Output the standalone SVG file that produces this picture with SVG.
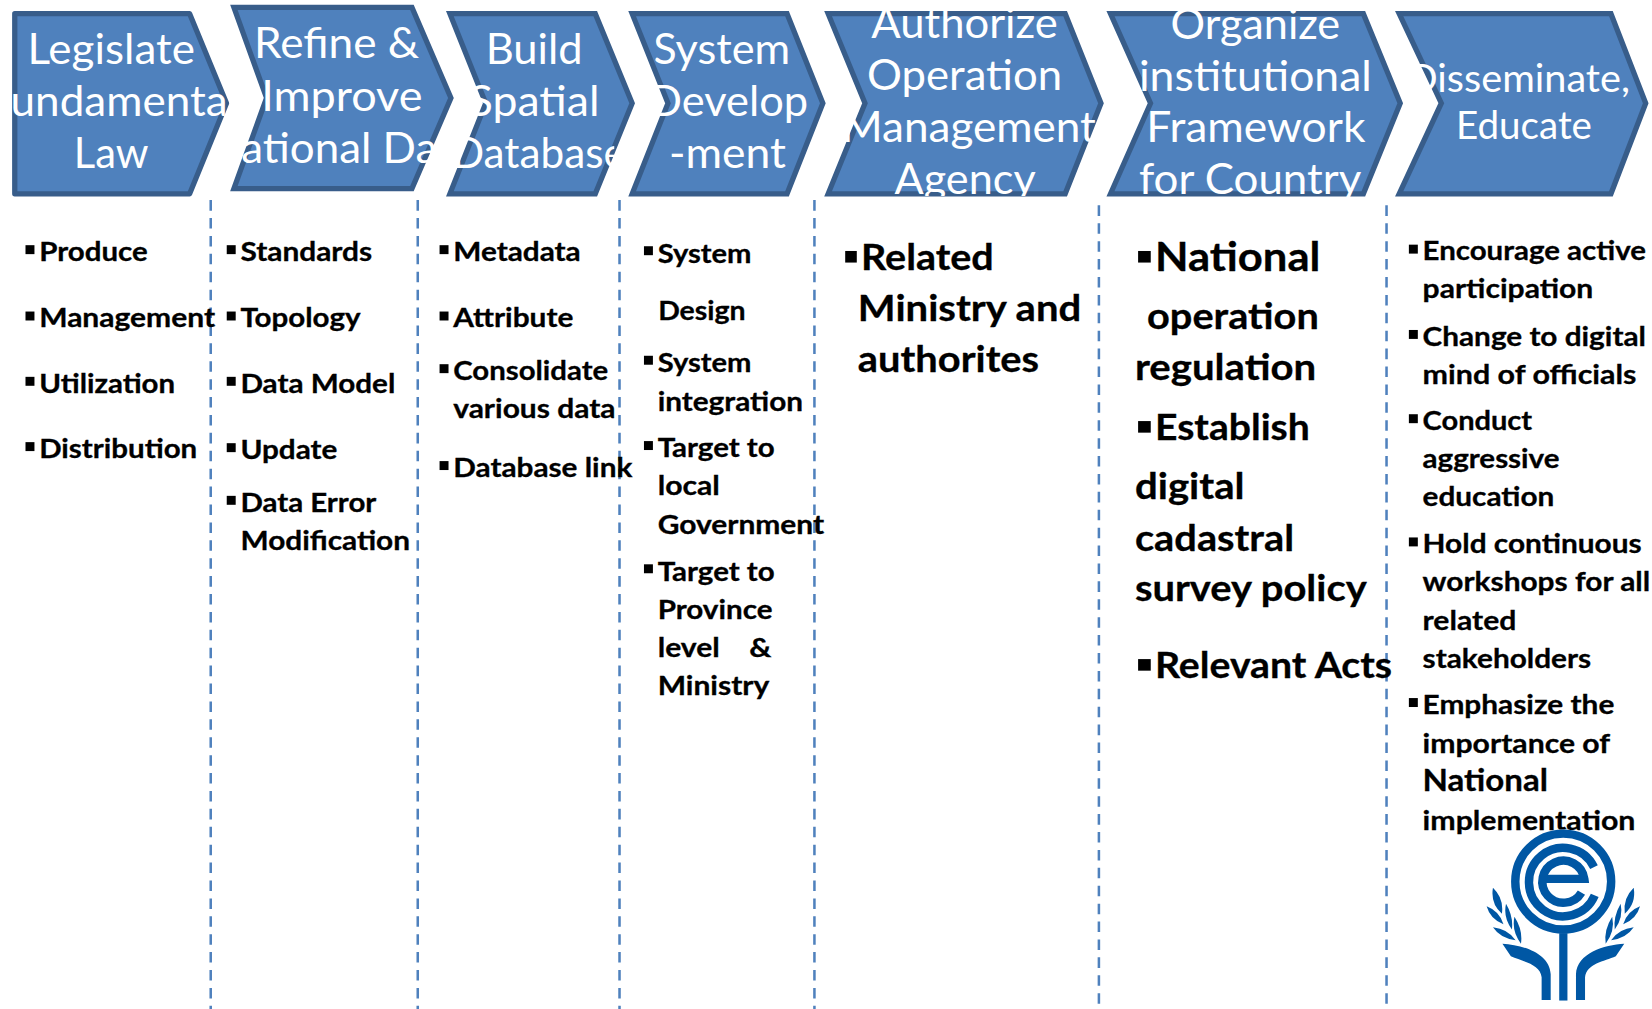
<svg xmlns="http://www.w3.org/2000/svg" width="1652" height="1009" viewBox="0 0 1652 1009">
<style>
text{font-family:Lato,"Open Sans","Liberation Sans",sans-serif}
.ch{fill:#4f81bd;stroke:#385d8a;stroke-width:5;stroke-linejoin:miter}
.h{fill:#fff;font-size:40px;font-weight:400}
.h2{font-size:36px}
.b{fill:#000;stroke:#000;stroke-width:.3;font-size:26px;font-weight:700}
.m{font-size:35px}
.n{font-size:29px}
.sq{fill:#000}
.sep{stroke:#4f81bd;stroke-width:2.4;stroke-dasharray:10 7;fill:none}
.logo{fill:#0057a4}
.ring{fill:none;stroke:#0057a4;stroke-width:8}
</style>
<defs>
<clipPath id="c1"><rect x="10" y="5" width="207" height="181"/></clipPath>
<clipPath id="c2"><rect x="229" y="0" width="186" height="181"/></clipPath>
<clipPath id="c3"><rect x="432" y="5" width="151" height="181"/></clipPath>
<clipPath id="c4"><rect x="622" y="5" width="150" height="181"/></clipPath>
<clipPath id="c5"><rect x="803" y="9" width="237" height="177"/></clipPath>
<clipPath id="c6"><rect x="1075" y="9" width="235" height="178"/></clipPath>
<clipPath id="c7"><rect x="1341" y="9" width="210" height="177"/></clipPath>
<path id="leaves" class="logo" d="M1417,843Q1427.500,853 1425.500,867.500Q1414.500,858 1417,843ZM1411,860.500Q1423,865 1427,877.500Q1414.500,873 1411,860.500ZM1429.400,858Q1436.500,870 1435,882.500Q1426.500,871 1429.400,858ZM1417,880.500Q1431,882 1438.500,892.800Q1424,891 1417,880.500ZM1437.400,870.500Q1445.500,883 1443.600,896Q1434.500,884 1437.400,870.500ZM1426,896C1445,897 1471,905 1471.800,925V949.500H1463.200V928C1462,915 1445,913 1434,908Z"/>
</defs>
<g transform="scale(1.0536,1.0532)">
<g id="connectors">
<path class="sep" d="M200,190V958"/>
<path class="sep" d="M396.500,190V958"/>
<path class="sep" d="M588,190V958"/>
<path class="sep" d="M773,190V958"/>
<path class="sep" d="M1043,195V956"/>
<path class="sep" d="M1316,195V956"/>
</g>
<g id="step-legislate">
<path class="ch" d="M14,13H180L215,98L180,184H14Z" stroke-linejoin="round" style="stroke-linejoin:round"/>
<g clip-path="url(#c1)">
<text class="h" x="26" y="61" textLength="159" lengthAdjust="spacingAndGlyphs">Legislate</text>
<text class="h" x="10" y="110" textLength="206" lengthAdjust="spacingAndGlyphs">undamenta</text>
<text class="h" x="70" y="160" textLength="71" lengthAdjust="spacingAndGlyphs">Law</text>
</g></g>
<g id="step-refine">
<path class="ch" d="M222,7H391L428,93L391,179H222L253,93Z"/>
<g clip-path="url(#c2)">
<text class="h" x="241" y="55.500" textLength="157" lengthAdjust="spacingAndGlyphs">Refine &amp;</text>
<text class="h" x="248" y="105" textLength="153" lengthAdjust="spacingAndGlyphs">Improve</text>
<text class="h" x="229" y="155" textLength="186" lengthAdjust="spacingAndGlyphs">ational Da</text>
</g></g>
<g id="step-build">
<path class="ch" d="M427,13H565L600,98L565,184H427L461,98Z"/>
<g clip-path="url(#c3)">
<text class="h" x="461" y="61" textLength="92" lengthAdjust="spacingAndGlyphs">Build</text>
<text class="h" x="445" y="110" textLength="124" lengthAdjust="spacingAndGlyphs">Spatial</text>
<text class="h" x="429" y="160" textLength="165" lengthAdjust="spacingAndGlyphs">Database</text>
</g></g>
<g id="step-system">
<path class="ch" d="M600,13H747L781,98L747,184H600L634,98Z"/>
<g clip-path="url(#c4)">
<text class="h" x="620" y="61" textLength="130" lengthAdjust="spacingAndGlyphs">System</text>
<text class="h" x="616" y="110" textLength="151" lengthAdjust="spacingAndGlyphs">Develop</text>
<text class="h" x="635" y="160" textLength="111" lengthAdjust="spacingAndGlyphs">-ment</text>
</g></g>
<g id="step-authorize">
<path class="ch" d="M786,13H1011L1045,98L1011,184H786L821,98Z"/>
<g clip-path="url(#c5)">
<text class="h" x="827" y="36" textLength="177" lengthAdjust="spacingAndGlyphs">Authorize</text>
<text class="h" x="823" y="85" textLength="185" lengthAdjust="spacingAndGlyphs">Operation</text>
<text class="h" x="799" y="135" textLength="241" lengthAdjust="spacingAndGlyphs">Management</text>
<text class="h" x="849" y="184" textLength="134" lengthAdjust="spacingAndGlyphs">Agency</text>
</g></g>
<g id="step-organize">
<path class="ch" d="M1054,13H1294L1329,98L1294,184H1054L1092,98Z"/>
<g clip-path="url(#c6)">
<text class="h" x="1111" y="37" textLength="161" lengthAdjust="spacingAndGlyphs">Organize</text>
<text class="h" x="1081" y="86" textLength="221" lengthAdjust="spacingAndGlyphs">institutional</text>
<text class="h" x="1088" y="135" textLength="208" lengthAdjust="spacingAndGlyphs">Framework</text>
<text class="h" x="1081" y="184" textLength="211" lengthAdjust="spacingAndGlyphs">for Country</text>
</g></g>
<g id="step-disseminate">
<path class="ch" d="M1328,13H1529L1562,98L1529,184H1328L1368,98Z"/>
<g clip-path="url(#c7)">
<text class="h h2" x="1336" y="87" textLength="211" lengthAdjust="spacingAndGlyphs">Disseminate,</text>
<text class="h h2" x="1382" y="132" textLength="129" lengthAdjust="spacingAndGlyphs">Educate</text>
</g></g>
<g transform="translate(-0.800,0.800)">
<g id="list-legislate">
<rect class="sq" x="25" y="232" width="8.500" height="8.500"/><text class="b" x="38" y="247" textLength="103" lengthAdjust="spacingAndGlyphs">Produce</text>
<rect class="sq" x="25" y="295" width="8.500" height="8.500"/><text class="b" x="38" y="310" textLength="167" lengthAdjust="spacingAndGlyphs">Management</text>
<rect class="sq" x="25" y="357" width="8.500" height="8.500"/><text class="b" x="38" y="372" textLength="129" lengthAdjust="spacingAndGlyphs">Utilization</text>
<rect class="sq" x="25" y="419" width="8.500" height="8.500"/><text class="b" x="38" y="434" textLength="150" lengthAdjust="spacingAndGlyphs">Distribution</text>
</g>
<g id="list-refine">
<rect class="sq" x="216" y="232" width="8.500" height="8.500"/><text class="b" x="229" y="247" textLength="125" lengthAdjust="spacingAndGlyphs">Standards</text>
<rect class="sq" x="216" y="295" width="8.500" height="8.500"/><text class="b" x="229" y="310" textLength="114" lengthAdjust="spacingAndGlyphs">Topology</text>
<rect class="sq" x="216" y="357" width="8.500" height="8.500"/><text class="b" x="229" y="372" textLength="147" lengthAdjust="spacingAndGlyphs">Data Model</text>
<rect class="sq" x="216" y="420" width="8.500" height="8.500"/><text class="b" x="229" y="435" textLength="92" lengthAdjust="spacingAndGlyphs">Update</text>
<rect class="sq" x="216" y="470" width="8.500" height="8.500"/><text class="b" x="229" y="485" textLength="129" lengthAdjust="spacingAndGlyphs">Data Error</text>
<text class="b" x="229" y="521" textLength="161" lengthAdjust="spacingAndGlyphs">Modification</text>
</g>
<g id="list-build">
<rect class="sq" x="418" y="232" width="8.500" height="8.500"/><text class="b" x="431" y="247" textLength="121" lengthAdjust="spacingAndGlyphs">Metadata</text>
<rect class="sq" x="418" y="295" width="8.500" height="8.500"/><text class="b" x="431" y="310" textLength="114" lengthAdjust="spacingAndGlyphs">Attribute</text>
<rect class="sq" x="418" y="345" width="8.500" height="8.500"/><text class="b" x="431" y="360" textLength="147" lengthAdjust="spacingAndGlyphs">Consolidate</text>
<text class="b" x="431" y="396" textLength="154" lengthAdjust="spacingAndGlyphs">various data</text>
<rect class="sq" x="418" y="437" width="8.500" height="8.500"/><text class="b" x="431" y="452" textLength="170" lengthAdjust="spacingAndGlyphs">Database link</text>
</g>
<g id="list-system">
<rect class="sq" x="612" y="233" width="8.500" height="8.500"/><text class="b" x="625" y="248.500" textLength="89" lengthAdjust="spacingAndGlyphs">System</text>
<text class="b" x="625.500" y="303.500" textLength="83" lengthAdjust="spacingAndGlyphs">Design</text>
<rect class="sq" x="612" y="337" width="8.500" height="8.500"/><text class="b" x="625" y="352.500" textLength="89" lengthAdjust="spacingAndGlyphs">System</text>
<text class="b" x="625" y="389.500" textLength="138" lengthAdjust="spacingAndGlyphs">integration</text>
<rect class="sq" x="612" y="418" width="8.500" height="8.500"/><text class="b" x="625" y="433.500" textLength="111" lengthAdjust="spacingAndGlyphs">Target to</text>
<text class="b" x="625" y="469.500" textLength="59" lengthAdjust="spacingAndGlyphs">local</text>
<text class="b" x="625" y="506.500" textLength="158" lengthAdjust="spacingAndGlyphs">Government</text>
<rect class="sq" x="612" y="535" width="8.500" height="8.500"/><text class="b" x="625" y="551" textLength="111" lengthAdjust="spacingAndGlyphs">Target to</text>
<text class="b" x="625" y="587" textLength="109" lengthAdjust="spacingAndGlyphs">Province</text>
<text class="b" x="625" y="623" textLength="59" lengthAdjust="spacingAndGlyphs">level</text><text class="b" x="712" y="623" textLength="21" lengthAdjust="spacingAndGlyphs">&amp;</text>
<text class="b" x="625" y="659.500" textLength="106" lengthAdjust="spacingAndGlyphs">Ministry</text>
</g>
<g id="list-authorize">
<rect class="sq" x="803" y="237.500" width="11" height="11"/><text class="b m" x="818" y="255.500" textLength="126" lengthAdjust="spacingAndGlyphs">Related</text>
<text class="b m" x="815" y="304" textLength="212" lengthAdjust="spacingAndGlyphs">Ministry and</text>
<text class="b m" x="815" y="352.500" textLength="172" lengthAdjust="spacingAndGlyphs">authorites</text>
</g>
<g id="list-organize">
<rect class="sq" x="1081" y="237.500" width="12" height="11"/><text class="b" style="font-size:38px" x="1097" y="256.500" textLength="157" lengthAdjust="spacingAndGlyphs">National</text>
<text class="b m" x="1089.500" y="311.500" textLength="163" lengthAdjust="spacingAndGlyphs">operation</text>
<text class="b m" x="1078" y="360" textLength="172" lengthAdjust="spacingAndGlyphs">regulation</text>
<rect class="sq" x="1081" y="399" width="12" height="11"/><text class="b m" x="1097" y="417" textLength="147" lengthAdjust="spacingAndGlyphs">Establish</text>
<text class="b m" x="1078" y="473" textLength="104" lengthAdjust="spacingAndGlyphs">digital</text>
<text class="b m" x="1078" y="522" textLength="151" lengthAdjust="spacingAndGlyphs">cadastral</text>
<text class="b m" x="1078" y="570" textLength="220" lengthAdjust="spacingAndGlyphs">survey policy</text>
<rect class="sq" x="1081" y="625" width="12" height="11"/><text class="b m" x="1097" y="643" textLength="225" lengthAdjust="spacingAndGlyphs">Relevant Acts</text>
</g>
<g id="list-disseminate">
<rect class="sq" x="1338" y="231.500" width="8.500" height="8.500"/><text class="b" x="1351" y="246.500" textLength="212" lengthAdjust="spacingAndGlyphs">Encourage active</text>
<text class="b" x="1351" y="282.500" textLength="162" lengthAdjust="spacingAndGlyphs">participation</text>
<rect class="sq" x="1338" y="312.500" width="8.500" height="8.500"/><text class="b" x="1351" y="327.500" textLength="212" lengthAdjust="spacingAndGlyphs">Change to digital</text>
<text class="b" x="1351" y="363.500" textLength="203" lengthAdjust="spacingAndGlyphs">mind of officials</text>
<rect class="sq" x="1338" y="392.500" width="8.500" height="8.500"/><text class="b" x="1351" y="407.500" textLength="104" lengthAdjust="spacingAndGlyphs">Conduct</text>
<text class="b" x="1351" y="443.500" textLength="130" lengthAdjust="spacingAndGlyphs">aggressive</text>
<text class="b" x="1351" y="479.500" textLength="125" lengthAdjust="spacingAndGlyphs">education</text>
<rect class="sq" x="1338" y="509.500" width="8.500" height="8.500"/><text class="b" x="1351" y="524.500" textLength="208" lengthAdjust="spacingAndGlyphs">Hold continuous</text>
<text class="b" x="1351" y="560.500" textLength="216" lengthAdjust="spacingAndGlyphs">workshops for all</text>
<text class="b" x="1351" y="597.500" textLength="89" lengthAdjust="spacingAndGlyphs">related</text>
<text class="b" x="1351" y="633.500" textLength="160" lengthAdjust="spacingAndGlyphs">stakeholders</text>
<rect class="sq" x="1338" y="662" width="8.500" height="8.500"/><text class="b" x="1351" y="677" textLength="182" lengthAdjust="spacingAndGlyphs">Emphasize the</text>
<text class="b" x="1351" y="714" textLength="178" lengthAdjust="spacingAndGlyphs">importance of</text>
<text class="b n" x="1351" y="750" textLength="119" lengthAdjust="spacingAndGlyphs">National</text>
<text class="b" x="1351" y="787.500" textLength="202" lengthAdjust="spacingAndGlyphs">implementation</text>
</g>
</g>
<g id="logo">
<circle cx="1483.700" cy="837" r="49.500" fill="#fff"/>
<circle class="ring" cx="1483.700" cy="837" r="45.500"/>
<path class="ring" d="M1512.900,823.300A32.500,32.500 0 1 0 1513.600,850.200"/>
<path class="ring" d="M1463.700,834.500H1503.700A20,20 0 1 0 1501,847.500"/>
<rect class="logo" x="1479.900" y="886" width="7.800" height="64"/>
<use href="#leaves"/>
<use href="#leaves" transform="translate(2967.600,0) scale(-1,1)"/>
</g>
</g>
</svg>
